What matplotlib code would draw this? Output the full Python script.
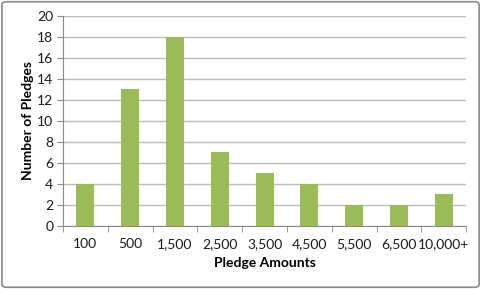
import matplotlib
matplotlib.use("Agg")
import matplotlib.pyplot as plt
from matplotlib.patches import FancyBboxPatch

categories = ["100", "500", "1,500", "2,500", "3,500", "4,500", "5,500", "6,500", "10,000+"]
counts = [4, 13, 18, 7, 5, 4, 2, 2, 3]
y_ticks = [0, 2, 4, 6, 8, 10, 12, 14, 16, 18, 20]

plt.rcParams['font.family'] = ['Lato', 'DejaVu Sans']

fig = plt.figure(figsize=(4.81, 2.89), dpi=100)
ax = fig.add_axes([0.131, 0.218, 0.838, 0.728])

x = list(range(len(categories)))
ax.bar(x, counts, width=0.4, color="#9BBB59", zorder=3)
ax.set_xlim(-0.5, len(categories) - 0.5)
ax.set_ylim(0, 20)
ax.set_yticks(y_ticks)
ax.set_yticklabels([str(v) for v in y_ticks], fontsize=10, color="#1a1a1a")
ax.set_xticks(x)
ax.set_xticklabels(categories, fontsize=10, color="#1a1a1a")
ax.tick_params(axis='x', length=0, pad=9)
ax.set_xticks([i - 0.5 for i in range(len(categories) + 1)], minor=True)
ax.tick_params(axis='x', which='minor', length=4, color="#888888", direction='out')
ax.tick_params(axis='y', length=4, color="#888888", direction='out', pad=3)
ax.grid(axis='y', color="#BBBBBB", linewidth=1.0, zorder=0)
for s in ['top', 'right']:
    ax.spines[s].set_visible(False)
ax.spines['left'].set_color("#888888")
ax.spines['bottom'].set_color("#888888")
ax.set_xlabel("Pledge Amounts", fontsize=10, fontweight='bold', labelpad=5)
ax.set_ylabel("Number of Pledges", fontsize=10, fontweight='bold', labelpad=2)

border = FancyBboxPatch((0.004, 0.006), 0.992, 0.988, boxstyle="round,pad=0,rounding_size=0.01",
                        transform=fig.transFigure, fill=False, edgecolor="#888888", linewidth=1.2)
fig.patches.append(border)

fig.savefig("out.png", dpi=100)
